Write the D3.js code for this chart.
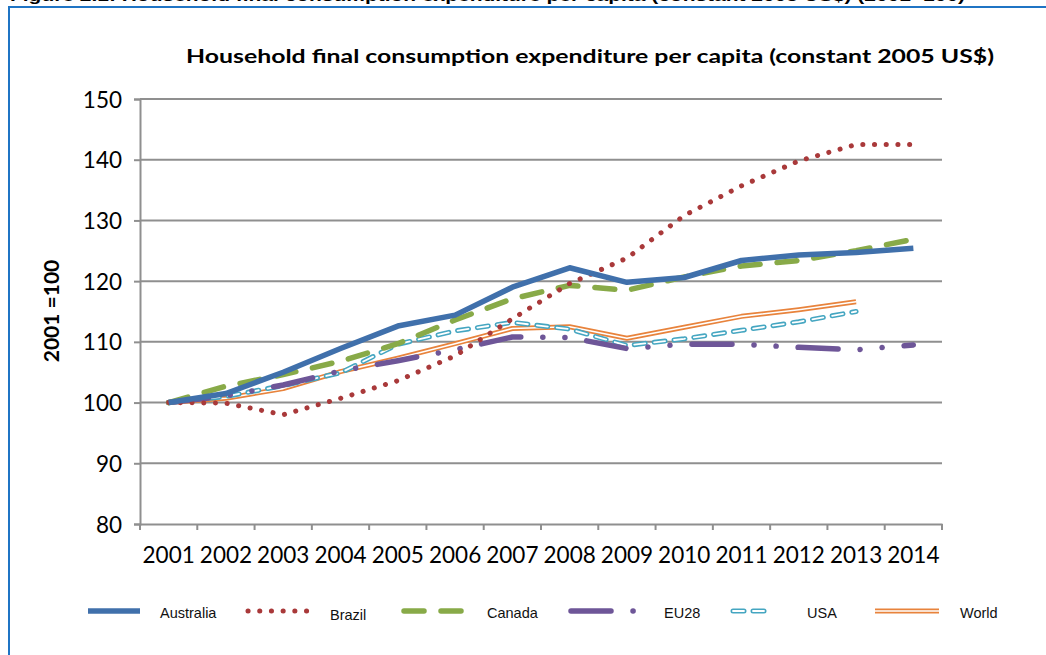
<!DOCTYPE html>
<html>
<head>
<meta charset="utf-8">
<script src="https://cdn.jsdelivr.net/npm/d3@7"></script>
<style>
  body { margin: 0; background: #fff; }
  svg { display: block; }
</style>
</head>
<body>
<script>
// data (index 2001 = 100)
var years = ["2001","2002","2003","2004","2005","2006","2007","2008","2009","2010","2011","2012","2013","2014"];
var australia = [100, 101.5, 105.0, 108.9, 112.6, 114.4, 119.0, 122.2, 119.8, 120.6, 123.4, 124.3, 124.7, 125.4];
var brazil    = [100, 99.9, 98.0, 100.7, 103.6, 107.7, 113.8, 119.6, 123.8, 130.8, 135.7, 139.8, 142.5, 142.5];
var canada    = [100, 102.7, 104.6, 106.8, 109.7, 113.6, 117.1, 119.3, 118.5, 120.7, 122.5, 123.4, 125.0, 126.9];
var eu28      = [100, 101.1, 102.9, 105.2, 106.9, 108.7, 110.8, 110.7, 108.9, 109.6, 109.6, 109.1, 108.7, 109.5];
var usa       = [100, 101.0, 102.8, 104.9, 109.6, 111.8, 113.2, 112.1, 109.4, 110.5, 111.9, 113.3, 115.0];
var world     = [100, 100.7, 102.3, 105.1, 107.3, 109.7, 112.2, 112.5, 110.6, 112.4, 114.2, 115.3, 116.6];
var yTicks = [80, 90, 100, 110, 120, 130, 140, 150];
var seriesNames = ["Australia", "Brazil", "Canada", "EU28", "USA", "World"];

var W = 1046, H = 655;
var svg = d3.select("body").append("svg")
    .attr("width", W)
    .attr("height", H);

// page caption, mostly cropped off the top (as in the reference)
svg.append("text")
    .attr("x", 10).attr("y", 1)
    .attr("font-family", "Liberation Sans, Arial, sans-serif")
    .attr("font-weight", "bold")
    .attr("font-size", 16)
    .attr("textLength", 955)
    .attr("lengthAdjust", "spacingAndGlyphs")
    .text("Figure 2.1: Household final consumption expenditure per capita (constant 2005 US$) (2001=100)");

// blue frame round the chart
svg.append("path")
    .attr("d", "M9," + H + " V7 H" + W)
    .attr("fill", "none")
    .attr("stroke", "#1f74c4")
    .attr("stroke-width", 2);

var x = d3.scaleBand().domain(years).range([140, 942]);
var y = d3.scaleLinear().domain([80, 150]).range([524, 99]);
var cx = function(d, i) { return x(years[i]) + x.bandwidth() / 2; };

// title
svg.append("text")
    .attr("x", 590).attr("y", 63)
    .attr("text-anchor", "middle")
    .attr("font-family", "Lato, sans-serif")
    .attr("font-weight", "bold")
    .attr("font-size", 19)
    .attr("textLength", 808)
    .attr("lengthAdjust", "spacingAndGlyphs")
    .text("Household final consumption expenditure per capita (constant 2005 US$)");

// gridlines
svg.append("g").selectAll("line")
    .data(yTicks.slice(1))
    .enter().append("line")
    .attr("x1", 140).attr("x2", 942)
    .attr("y1", function(d) { return y(d); })
    .attr("y2", function(d) { return y(d); })
    .attr("stroke", "#8f8f8f")
    .attr("stroke-width", 2);

// y axis
var yAxis = svg.append("g")
    .attr("transform", "translate(140,0)")
    .call(d3.axisLeft(y).tickValues(yTicks).tickSize(6).tickPadding(12));
yAxis.select(".domain").attr("stroke", "#8f8f8f").attr("stroke-width", 2);
yAxis.selectAll(".tick line").attr("stroke", "#8f8f8f").attr("stroke-width", 2);
yAxis.selectAll(".tick text")
    .attr("font-family", "Lato, sans-serif")
    .attr("font-size", 22.5)
    .attr("fill", "#000")
    .attr("dy", "0.36em");

// x axis (ticks between categories)
var xAxis = svg.append("g")
    .attr("transform", "translate(0,524)")
    .call(d3.axisBottom(x).tickSize(0).tickPadding(23));
xAxis.select(".domain").attr("stroke", "#8f8f8f").attr("stroke-width", 2);
xAxis.selectAll(".tick text")
    .attr("font-family", "Lato, sans-serif")
    .attr("font-size", 22.5)
    .attr("fill", "#000");
xAxis.selectAll(".sep")
    .data(years.concat(["end"]))
    .enter().append("line")
    .attr("class", "sep")
    .attr("x1", function(d, i) { return 140 + i * x.step(); })
    .attr("x2", function(d, i) { return 140 + i * x.step(); })
    .attr("y1", 0).attr("y2", 6)
    .attr("stroke", "#8f8f8f")
    .attr("stroke-width", 2);

// y axis title
svg.append("text")
    .attr("transform", "translate(59,311) rotate(-90)")
    .attr("text-anchor", "middle")
    .attr("font-family", "Lato, sans-serif")
    .attr("font-weight", "bold")
    .attr("font-size", 21)
    .text("2001 =100");

var line = d3.line().x(cx).y(function(d) { return y(d); });

// line styles: list of stroke layers per series
var styles = {
  Australia: [{ c: "#4070ab", w: 5.5, dash: null }],
  Brazil:    [{ c: "#a9393a", w: 5, dash: "0.1,11.6" }],
  Canada:    [{ c: "#88aa48", w: 5.5, dash: "20,17" }],
  EU28:      [{ c: "#6e5698", w: 5.5, dash: "40,22,0.1,22,0.1,22" }],
  USA:       [{ c: "#45a6c1", w: 5, dash: "11,9" }, { c: "#fff", w: 1.8, dash: "11,9" }],
  World:     [{ c: "#e8833c", w: 5, dash: null }, { c: "#fff", w: 1.6, dash: null }]
};
var seriesData = { Australia: australia, Brazil: brazil, Canada: canada, EU28: eu28, USA: usa, World: world };
var drawOrder = ["World", "USA", "EU28", "Canada", "Brazil", "Australia"];

function strokeLayers(sel, name) {
  styles[name].forEach(function(s) {
    sel.append("path")
      .attr("fill", "none")
      .attr("stroke", s.c)
      .attr("stroke-width", s.w)
      .attr("stroke-linecap", s.dash ? "round" : "butt")
      .attr("stroke-linejoin", "round")
      .attr("stroke-dasharray", s.dash)
      .attr("d", sel.datum());
  });
}

drawOrder.forEach(function(name) {
  var g = svg.append("g").datum(line(seriesData[name]));
  strokeLayers(g, name);
});

// legend
var legendX = [88, 248, 404, 571, 733, 875];
var legendLen = [52, 62, 66, 63, 40, 64];
var legendTextX = [160, 330, 487, 664, 807, 960];
var legendTextY = [618, 620, 618, 618, 618, 618];
seriesNames.forEach(function(name, i) {
  var g = svg.append("g").datum("M" + legendX[i] + ",611 h" + legendLen[i]);
  strokeLayers(g, name);
  svg.append("text")
    .attr("x", legendTextX[i]).attr("y", legendTextY[i])
    .attr("font-family", "Liberation Sans, Arial, sans-serif")
    .attr("font-size", 14.5)
    .attr("fill", "#111")
    .text(name);
});
</script>
</body>
</html>
